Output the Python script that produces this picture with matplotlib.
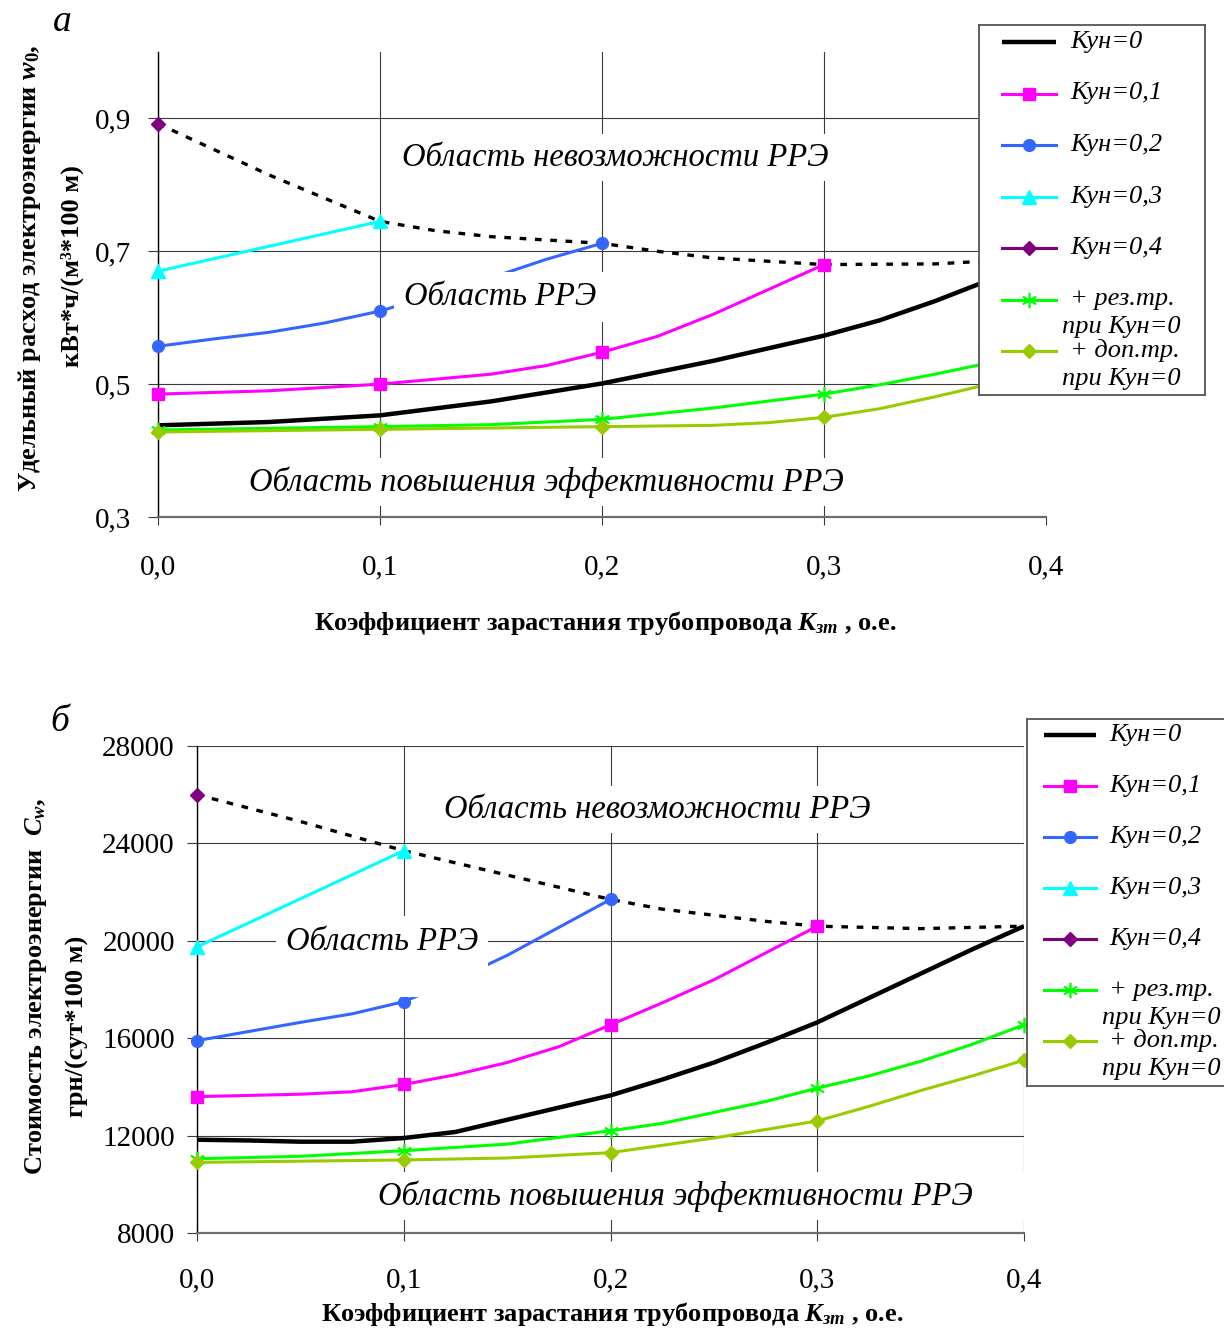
import matplotlib
matplotlib.use("Agg")
import matplotlib.pyplot as plt

plt.rcParams['font.family'] = ['Liberation Serif', 'DejaVu Serif']
plt.rcParams['mathtext.fontset'] = 'custom'
plt.rcParams['mathtext.it'] = 'Liberation Serif:style=italic:weight=bold'
plt.rcParams['mathtext.rm'] = 'Liberation Serif:weight=bold'
plt.rcParams['mathtext.bf'] = 'Liberation Serif:weight=bold'

# ---------------- data: panel a (w0) ----------------
xa_k0 = [0.0, 0.05, 0.1, 0.15, 0.2, 0.25, 0.3, 0.325, 0.35, 0.4]
wa_k0 = [0.438, 0.443, 0.453, 0.474, 0.501, 0.535, 0.573, 0.596, 0.625, 0.690]
xa_k1 = [0.0, 0.05, 0.1, 0.15, 0.175, 0.2, 0.225, 0.25, 0.3]
wa_k1 = [0.485, 0.490, 0.500, 0.515, 0.528, 0.548, 0.572, 0.605, 0.680]
xa_k2 = [0.0, 0.025, 0.05, 0.075, 0.1, 0.125, 0.15, 0.175, 0.2]
wa_k2 = [0.557, 0.568, 0.578, 0.592, 0.610, 0.635, 0.660, 0.688, 0.712]
xa_k3 = [0.0, 0.1]
wa_k3 = [0.670, 0.745]
xa_k4 = [0.0]
wa_k4 = [0.892]
xa_rez = [0.0, 0.1, 0.15, 0.2, 0.25, 0.3, 0.325, 0.35, 0.4]
wa_rez = [0.431, 0.436, 0.439, 0.447, 0.464, 0.485, 0.499, 0.515, 0.550]
xa_dop = [0.0, 0.1, 0.2, 0.25, 0.275, 0.3, 0.325, 0.35, 0.4]
wa_dop = [0.428, 0.432, 0.436, 0.438, 0.442, 0.450, 0.463, 0.481, 0.520]
xa_bound = [0.0, 0.05, 0.1, 0.125, 0.15, 0.2, 0.225, 0.25, 0.3, 0.35, 0.4]
wa_bound = [0.892, 0.815, 0.745, 0.731, 0.722, 0.712, 0.700, 0.690, 0.680, 0.681, 0.690]

# ---------------- data: panel b (Cw) ----------------
xb_k0 = [0, .025, .05, .075, .1, .125, .15, .175, .2, .225, .25, .275, .3, .325, .35, .375, .4]
cb_k0 = [11830, 11800, 11750, 11750, 11900, 12150, 12650, 13150, 13650, 14300, 15000, 15800,
         16650, 17650, 18650, 19650, 20600]
xb_k1 = [0, .05, .075, .1, .125, .15, .175, .2, .225, .25, .275, .3]
cb_k1 = [13600, 13700, 13800, 14100, 14500, 15000, 15650, 16550, 17450, 18400, 19500, 20600]
xb_k2 = [0, .05, .075, .1, .125, .15, .175, .2]
cb_k2 = [15900, 16650, 17000, 17500, 18400, 19400, 20550, 21700]
xb_k3 = [0, .1]
cb_k3 = [19750, 23700]
xb_k4 = [0]
cb_k4 = [26000]
xb_rez = [0, .05, .1, .15, .2, .225, .25, .275, .3, .325, .35, .375, .4]
cb_rez = [11050, 11150, 11380, 11650, 12200, 12500, 12950, 13400, 13950, 14450, 15050, 15750, 16550]
xb_dop = [0, .05, .1, .15, .2, .225, .25, .275, .3, .325, .35, .375, .4]
cb_dop = [10900, 10950, 11000, 11080, 11300, 11600, 11900, 12250, 12600, 13200, 13850, 14450, 15100]
xb_bound = [0, .05, .1, .15, .2, .225, .25, .275, .3, .35, .4]
cb_bound = [26000, 24900, 23700, 22700, 21700, 21300, 21050, 20800, 20600, 20500, 20600]

xticks = [0.0, 0.1, 0.2, 0.3, 0.4]
xtick_labels = ["0,0", "0,1", "0,2", "0,3", "0,4"]
ya_ticks = [0.3, 0.5, 0.7, 0.9]
ya_labels = ["0,3", "0,5", "0,7", "0,9"]
yb_ticks = [8000, 12000, 16000, 20000, 24000, 28000]
yb_labels = ["8000", "12000", "16000", "20000", "24000", "28000"]

legend_labels = ["Кун=0", "Кун=0,1", "Кун=0,2", "Кун=0,3", "Кун=0,4",
                 ("+ рез.тр.", "при Кун=0"), ("+ доп.тр.", "при Кун=0")]

region_top = "Область невозможности РРЭ"
region_mid = "Область РРЭ"
region_low = "Область повышения эффективности РРЭ"

# ---------------- styles ----------------
C_K1 = '#FF00FF'
C_K2 = '#3366FF'
C_K3 = '#00FFFF'
C_K4 = '#800080'
C_REZ = '#00FF00'
C_DOP = '#99CC00'

styles = [
    dict(color='black', lw=3.2, marker=None),
    dict(color=C_K1, lw=2.2, marker='s', ms=8.5, mec=C_K1, mfc=C_K1),
    dict(color=C_K2, lw=2.2, marker='o', ms=8.5, mec=C_K2, mfc=C_K2),
    dict(color=C_K3, lw=2.2, marker='^', ms=9.5, mec=C_K3, mfc=C_K3),
    dict(color=C_K4, lw=2.2, marker='D', ms=7.5, mec=C_K4, mfc=C_K4),
    dict(color=C_REZ, lw=2.2, marker=(6, 2, 0), ms=11, mec=C_REZ, mew=1.2),
    dict(color=C_DOP, lw=2.2, marker='D', ms=7.5, mec=C_DOP, mfc=C_DOP),
]

W, H = 1224, 1329
fig = plt.figure(figsize=(W / 100, H / 100), dpi=100)


def px_axes(l, r, t, b):
    return [l / W, 1 - b / H, (r - l) / W, (b - t) / H]


def marks(xs):
    return [i for i, v in enumerate(xs) if abs(v * 10 - round(v * 10)) < 1e-6]


def setup_axes(ax, ylim, yt, ytl, xpad, ypad, hide_last_vgrid):
    ax.set_xlim(0, 0.4)
    ax.set_ylim(*ylim)
    ax.set_xticks(xticks)
    ax.set_xticklabels(xtick_labels)
    ax.set_yticks(yt)
    ax.set_yticklabels(ytl)
    ax.set_axisbelow(True)
    ax.grid(True, color='#3a3a3a', lw=0.8)
    if hide_last_vgrid:
        ax.xaxis.get_gridlines()[-1].set_visible(False)
    for s in ['top', 'right']:
        ax.spines[s].set_visible(False)
    ax.spines['left'].set_color('black')
    ax.spines['left'].set_linewidth(1.0)
    ax.spines['bottom'].set_color('#6e6e6e')
    ax.spines['bottom'].set_linewidth(1.6)
    ax.tick_params(axis='x', direction='out', length=6, width=0.8, color='#3a3a3a',
                   labelsize=21, pad=xpad)
    ax.tick_params(axis='y', direction='out', length=7, width=0.8, color='#3a3a3a',
                   labelsize=21, pad=ypad)


def plot_series(ax, series):
    for (xs, ys), st in zip(series, styles):
        st = dict(st)
        mk = st.pop('marker')
        if mk is None:
            ax.plot(xs, ys, zorder=3, solid_capstyle='butt', **st)
        else:
            ax.plot(xs, ys, marker=mk, markevery=marks(xs), zorder=3,
                    clip_on=False, **st)


def boundary(ax, xs, ys):
    ax.plot(xs, ys, color='black', lw=2.4, linestyle=(0, (2.0, 2.6)), zorder=2.5)


txt_kw = dict(style='italic', fontsize=23.5, zorder=6, ha='center', va='center')
box = dict(boxstyle='square,pad=0.25', fc='white', ec='none')

# ================= panel a =================
axa = fig.add_axes(px_axes(158, 1046, 52, 517))
setup_axes(axa, (0.3, 1.0), ya_ticks, ya_labels, 21, 12, True)
boundary(axa, xa_bound, wa_bound)
plot_series(axa, [(xa_k0, wa_k0), (xa_k1, wa_k1), (xa_k2, wa_k2), (xa_k3, wa_k3),
                  (xa_k4, wa_k4), (xa_rez, wa_rez), (xa_dop, wa_dop)])
axa.text(0.206, 0.841, region_top, bbox=box, **txt_kw)
axa.text(0.154, 0.631, region_mid, bbox=dict(boxstyle='square,pad=0.3', fc='white', ec='none'), **txt_kw)
axa.text(0.175, 0.353, region_low, bbox=box, **txt_kw)

# ================= panel b =================
axb = fig.add_axes(px_axes(197, 1024, 746, 1233))
setup_axes(axb, (8000, 28000), yb_ticks, yb_labels, 19, 9, False)
boundary(axb, xb_bound, cb_bound)
plot_series(axb, [(xb_k0, cb_k0), (xb_k1, cb_k1), (xb_k2, cb_k2), (xb_k3, cb_k3),
                  (xb_k4, cb_k4), (xb_rez, cb_rez), (xb_dop, cb_dop)])
axb.text(0.2225, 25400, region_top, bbox=box, **txt_kw)
kw_mid = dict(txt_kw)
kw_mid['va'] = 'top'
axb.text(0.0895, 20600, region_mid + "\n", linespacing=1.0,
         bbox=dict(boxstyle='square,pad=0.3', fc='white', ec='none'), **kw_mid)
kw_low = dict(txt_kw)
kw_low['ha'] = 'left'
axb.text(0.0875, 9520, region_low + "          ", bbox=box, **kw_low)

# ================= axis labels =================
lab_kw = dict(fontsize=19, fontweight='bold', rotation=90, ha='center', va='center')
fig.text(30 / W, 1 - 268 / H, "Удельный расход электроэнергии $w_\\mathit{0}$,", **lab_kw)
fig.text(72 / W, 1 - 266 / H, "кВт*ч/(м³*100 м)", **lab_kw)
fig.text(36 / W, 1 - 986 / H, "Стоимость электроэнергии  $C_w$,", **lab_kw)
fig.text(77 / W, 1 - 1026 / H, "грн/(сут*100 м)", **lab_kw)

xl_kw = dict(fontsize=19, fontweight='bold', ha='center', va='center')
fig.text(605 / W, 1 - 623 / H, "Коэффициент зарастания трубопровода $К_{зт}$ , о.е.", **xl_kw)
fig.text(612 / W, 1 - 1314 / H, "Коэффициент зарастания трубопровода $К_{зт}$ , о.е.", **xl_kw)

fig.text(62 / W, 1 - 22 / H, "а", style='italic', fontsize=27, ha='center', va='center')
fig.text(60 / W, 1 - 722 / H, "б", style='italic', fontsize=27, ha='center', va='center')


# ================= legends =================
def draw_legend(l, r, t, b, y0, dy, hx0, hx1, tx, tx2):
    lax = fig.add_axes(px_axes(l, r, t, b))
    lax.set_xlim(l, r)
    lax.set_ylim(b, t)
    lax.set_xticks([])
    lax.set_yticks([])
    lax.set_facecolor('white')
    for sp in lax.spines.values():
        sp.set_color('#555555')
        sp.set_linewidth(1.3)
    for i, (lab, st) in enumerate(zip(legend_labels, styles)):
        y = y0 + i * dy
        st = dict(st)
        mk = st.pop('marker')
        if mk is None:
            lax.plot([hx0, hx1], [y, y], solid_capstyle='butt', **st)
        else:
            lax.plot([hx0, (hx0 + hx1) / 2, hx1], [y, y, y], marker=mk, markevery=[1], **st)
        if isinstance(lab, tuple):
            lax.text(tx, y, lab[0], style='italic', fontsize=19, ha='left', va='center')
            lax.text(tx2, y + 28, lab[1], style='italic', fontsize=19, ha='left', va='center')
        else:
            lax.text(tx, y, lab, style='italic', fontsize=19, ha='left', va='center')


draw_legend(979, 1205, 25, 395, 42, 51.5, 1002, 1056, 1070, 1062)
draw_legend(1027, 1250, 719, 1086, 735, 51, 1044, 1096, 1109, 1102)

fig.savefig("out.png", dpi=100)
